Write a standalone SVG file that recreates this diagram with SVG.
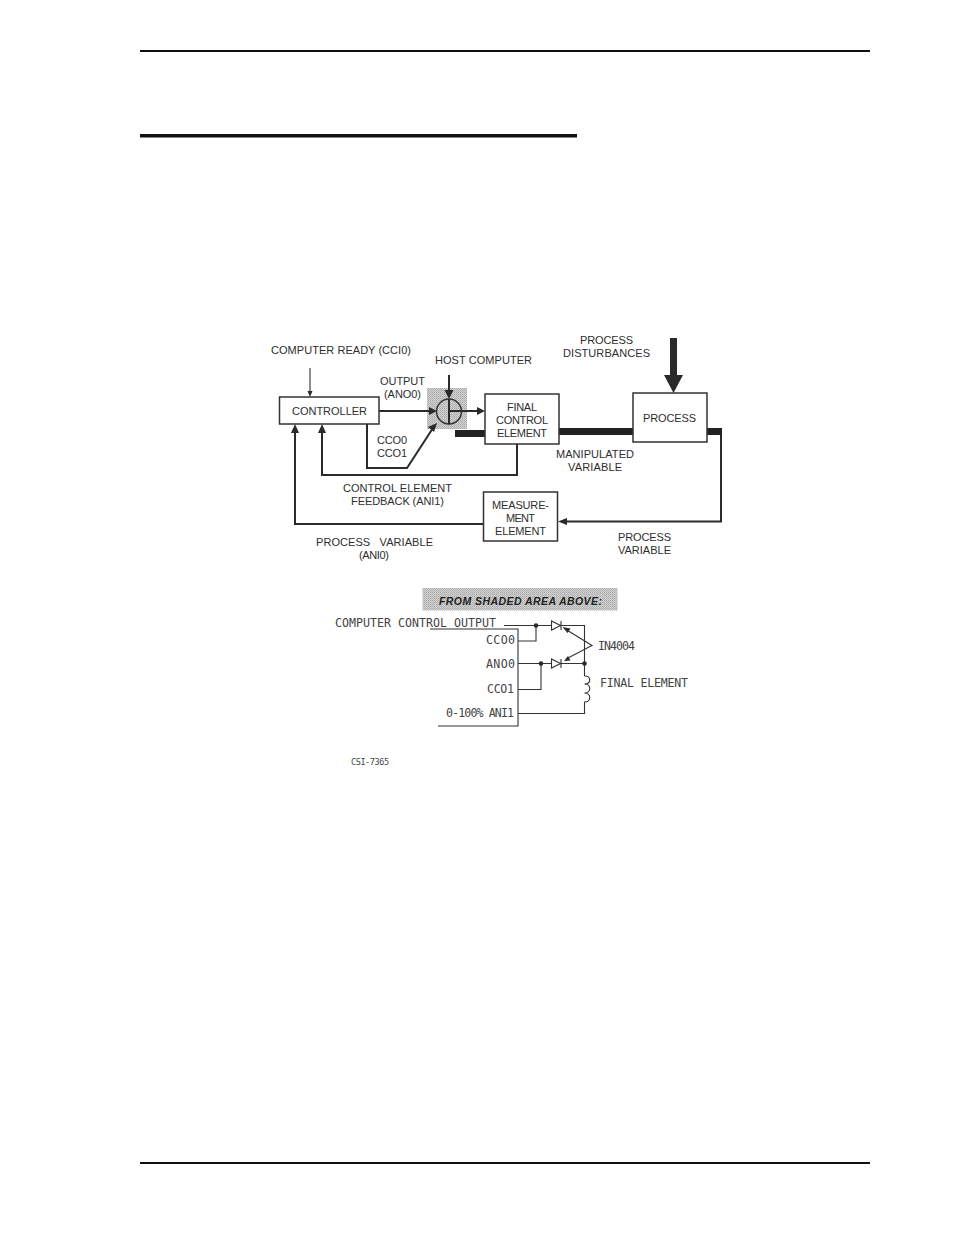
<svg xmlns="http://www.w3.org/2000/svg" width="954" height="1235" viewBox="0 0 954 1235">
<style>
text{font-family:"Liberation Sans",Arial,sans-serif;font-size:11px;fill:#2e2e2e}
.m{font-family:"DejaVu Sans Mono","Liberation Mono",monospace;font-size:11.6px;fill:#444}
.s{font-size:8.5px}
.box{fill:#fff;stroke:#333;stroke-width:1.5}
.w{fill:none;stroke:#2a2a2a;stroke-width:2}
.t{fill:none;stroke:#333;stroke-width:1.1}
.c{fill:none;stroke:#444;stroke-width:1}
.b{fill:#2a2a2a}
</style>
<defs>
<pattern id="ht" width="2" height="2" patternUnits="userSpaceOnUse"><rect width="2" height="2" fill="#d2d2d2"/><rect width="1" height="1" fill="#a8a8a8"/><rect x="1" y="1" width="1" height="1" fill="#b8b8b8"/></pattern>
</defs>
<rect width="954" height="1235" fill="#fff"/>
<g id="page-rules">
<rect x="140" y="50" width="730" height="2" fill="#111"/>
<rect x="140" y="134" width="437" height="3.5" fill="#111"/>
<rect x="140" y="1162" width="730" height="2" fill="#111"/>
</g>
<rect id="shaded-area" x="427" y="388" width="40" height="41" fill="url(#ht)"/>
<g id="connectors">
<path class="t" d="M310 368V392"/><path class="b" d="M310 397l-2.500 -6h5z"/>
<path class="w" d="M379 411H430"/><path class="b" d="M437 411l-8 -4v8z"/>
<path class="w" d="M449 375V392" stroke-width="2.500"/><path class="b" d="M449 399l-4.500 -9h9z"/>
<path class="w" d="M449 411H478"/><path class="b" d="M485 411l-8 -4v8z"/>
<path class="w" d="M367 424V468H407L433 428"/><path class="b" d="M437 423l-9 4 6 5z"/>
<path class="w" d="M517 444V475H322V431"/><path class="b" d="M322 424l-4 9h8z"/>
<path class="w" d="M483 524H295V431"/><path class="b" d="M295 424l-4 9h8z"/>
<rect x="455" y="430" width="30" height="7" fill="#222"/>
<rect x="558" y="428" width="75" height="7" fill="#222"/>
<path fill="#222" d="M706 428H722V435H706z"/>
<path class="w" d="M721 435V521.500H566"/><path class="b" d="M558 521.500l9 -3.500v7z"/>
<path class="b" d="M670 338h7v37h6l-9.500 18-9.500 -18h6z"/>
</g>
<g id="summing-junction">
<circle cx="449" cy="411.500" r="12.500" fill="none" stroke="#333" stroke-width="1.500"/>
<path class="w" d="M449 399V424"/>
</g>
<g id="controller"><rect class="box" x="279.500" y="397" width="99.500" height="27"/><text x="292" y="415" textLength="75">CONTROLLER</text></g>
<g id="final-control-element"><rect class="box" x="485" y="394" width="74" height="50"/><text x="507" y="411" textLength="30">FINAL</text><text x="496" y="424" textLength="52">CONTROL</text><text x="497" y="437" textLength="50">ELEMENT</text></g>
<g id="process"><rect class="box" x="633" y="393" width="74" height="49"/><text x="643" y="422" textLength="53">PROCESS</text></g>
<g id="measurement-element"><rect class="box" x="483.500" y="492" width="74" height="49"/><text x="492" y="509" textLength="57">MEASURE-</text><text x="506" y="522" textLength="29">MENT</text><text x="495" y="535" textLength="51">ELEMENT</text></g>
<g id="labels">
<text x="271" y="354" textLength="140">COMPUTER READY (CCI0)</text>
<text x="435" y="364" textLength="97">HOST COMPUTER</text>
<text x="380" y="385" textLength="45">OUTPUT</text>
<text x="384" y="398" textLength="37">(ANO0)</text>
<text x="377" y="444" textLength="30">CCO0</text>
<text x="377" y="457" textLength="30">CCO1</text>
<text x="343" y="492" textLength="109">CONTROL ELEMENT</text>
<text x="351" y="505" textLength="93">FEEDBACK (ANI1)</text>
<text x="580" y="344" textLength="53">PROCESS</text>
<text x="563" y="357" textLength="87">DISTURBANCES</text>
<text x="556" y="458" textLength="78">MANIPULATED</text>
<text x="568" y="471" textLength="54">VARIABLE</text>
<text x="618" y="541" textLength="53">PROCESS</text>
<text x="618" y="554" textLength="53">VARIABLE</text>
<text x="316" y="546" xml:space="preserve" textLength="117">PROCESS   VARIABLE</text>
<text x="359" y="559" textLength="30">(ANI0)</text>
</g>
<g id="shaded-caption">
<rect x="422.500" y="588" width="195" height="22.500" fill="url(#ht)"/>
<text x="439" y="605" textLength="163" style="font-weight:bold;font-style:italic;font-size:10.500px;fill:#222">FROM SHADED AREA ABOVE:</text>
</g>
<g id="schematic">
<path class="t" d="M430 629H518V726H438"/>
<path class="t" d="M504 625.500H551M561 625.500H584.500V676M518 641H536V625.500M518 663.500H551M561 663.500H584.500M518 689.500H541V663.500"/>
<path class="t" d="M584.500 676c7 0 7 8 0 8c7 0 7 9 0 9c7 0 7 9 0 9V713.500H518"/>
<path class="t" d="M551.500 621v9l9 -4.500zM551.500 659v9l9 -4.500zM561 621v9M561 659v9"/>
<circle class="b" cx="536" cy="625.500" r="2.300"/><circle class="b" cx="541" cy="663.500" r="2.300"/><circle class="b" cx="584.500" cy="663.500" r="2.300"/>
<path class="t" d="M566 629.500L592 645.500L566 659"/>
<path class="b" d="M562.500 627l8 1.500-3 4.500zM564 661l4 -5 2.500 4.500z"/>
<text class="m" x="335" y="627" textLength="161">COMPUTER CONTROL OUTPUT</text>
<text class="m" x="486" y="644" textLength="29">CCO0</text>
<text class="m" x="486" y="668" textLength="29">ANO0</text>
<text class="m" x="487" y="693" textLength="27">CCO1</text>
<text class="m" x="446" y="717" textLength="68">0-100% ANI1</text>
<text class="m" x="598" y="650" textLength="37">IN4004</text>
<text class="m" x="600" y="687" textLength="88">FINAL ELEMENT</text>
<text class="m s" x="351" y="765" textLength="38">CSI-7365</text>
</g>
</svg>
